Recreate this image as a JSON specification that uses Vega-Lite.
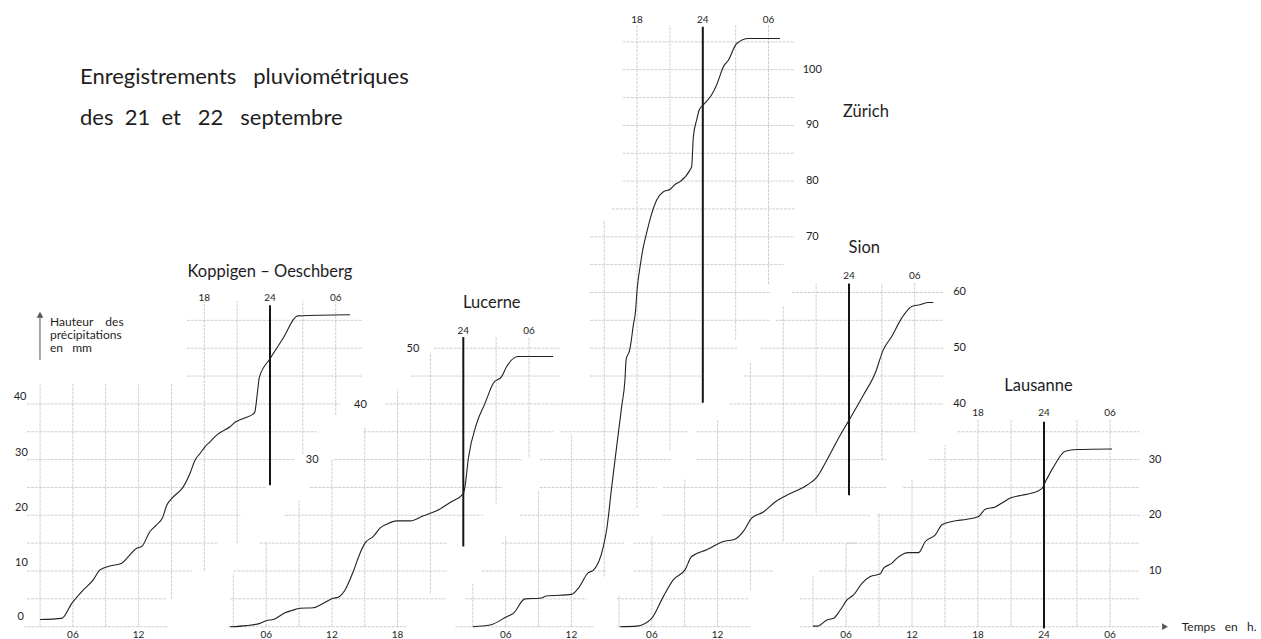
{
 "$schema": "https://vega.github.io/schema/vega-lite/v6.json",
 "width": 1261, "height": 639, "padding": 0, "autosize": {"type": "none"},
 "background": "white",
 "config": {"view": {"stroke": null}, "text": {"font": "Lato", "fill": "#1e1e1e", "baseline": "middle"}},
 "datasets": {
  "curves": [
   {"station":"K","h":3.0,"mm":1.3},{"station":"K","h":4.98,"mm":1.5},{"station":"K","h":5.9,"mm":4.2},{"station":"K","h":6.95,"mm":6.6},{"station":"K","h":7.86,"mm":8.4},{"station":"K","h":8.47,"mm":10.2},{"station":"K","h":9.39,"mm":10.9},{"station":"K","h":10.46,"mm":11.4},{"station":"K","h":11.06,"mm":12.6},{"station":"K","h":11.83,"mm":14.1},{"station":"K","h":12.28,"mm":14.4},{"station":"K","h":13.04,"mm":17.1},{"station":"K","h":13.65,"mm":18.3},{"station":"K","h":14.17,"mm":19.5},{"station":"K","h":14.57,"mm":21.8},{"station":"K","h":15.17,"mm":23.3},{"station":"K","h":16.08,"mm":25.1},{"station":"K","h":16.69,"mm":27.5},{"station":"K","h":17.15,"mm":29.9},{"station":"K","h":17.61,"mm":31.1},{"station":"K","h":18.06,"mm":32.3},{"station":"K","h":18.52,"mm":33.2},{"station":"K","h":19.13,"mm":34.4},{"station":"K","h":19.74,"mm":35.2},{"station":"K","h":20.35,"mm":35.9},{"station":"K","h":20.8,"mm":36.7},{"station":"K","h":21.56,"mm":37.4},{"station":"K","h":22.48,"mm":38.2},{"station":"K","h":22.62,"mm":38.6},{"station":"K","h":22.85,"mm":42.0},{"station":"K","h":23.03,"mm":44.8},{"station":"K","h":24.0,"mm":48.1},{"station":"K","h":25.2,"mm":51.8},{"station":"K","h":26.53,"mm":55.8},{"station":"K","h":31.3,"mm":56.0},
   {"station":"Lu","h":2.69,"mm":0},{"station":"Lu","h":4.22,"mm":0.2},{"station":"Lu","h":5.43,"mm":0.6},{"station":"Lu","h":6.05,"mm":1.1},{"station":"Lu","h":6.65,"mm":1.3},{"station":"Lu","h":7.72,"mm":2.5},{"station":"Lu","h":8.33,"mm":2.9},{"station":"Lu","h":9.09,"mm":3.3},{"station":"Lu","h":10.3,"mm":3.4},{"station":"Lu","h":11.21,"mm":4.2},{"station":"Lu","h":12.13,"mm":5.1},{"station":"Lu","h":12.58,"mm":5.3},{"station":"Lu","h":13.2,"mm":6.6},{"station":"Lu","h":13.95,"mm":9.9},{"station":"Lu","h":14.57,"mm":13.2},{"station":"Lu","h":15.02,"mm":15.0},{"station":"Lu","h":15.78,"mm":16.2},{"station":"Lu","h":16.39,"mm":17.7},{"station":"Lu","h":17.0,"mm":18.4},{"station":"Lu","h":17.92,"mm":19.0},{"station":"Lu","h":19.13,"mm":19.0},{"station":"Lu","h":20.35,"mm":19.9},{"station":"Lu","h":21.57,"mm":20.8},{"station":"Lu","h":22.79,"mm":22.3},{"station":"Lu","h":24.0,"mm":23.9},{"station":"Lu","h":24.15,"mm":25.1},{"station":"Lu","h":24.46,"mm":30.2},{"station":"Lu","h":25.22,"mm":36.5},{"station":"Lu","h":25.98,"mm":40.1},{"station":"Lu","h":26.74,"mm":43.7},{"station":"Lu","h":27.5,"mm":44.9},{"station":"Lu","h":27.96,"mm":46.7},{"station":"Lu","h":29.02,"mm":48.5},{"station":"Lu","h":32.2,"mm":48.5},
   {"station":"Z","h":3.0,"mm":0},{"station":"Z","h":4.57,"mm":0.3},{"station":"Z","h":6.09,"mm":1.8},{"station":"Z","h":6.7,"mm":2.4},{"station":"Z","h":7.76,"mm":5.0},{"station":"Z","h":9.13,"mm":5.1},{"station":"Z","h":9.74,"mm":5.5},{"station":"Z","h":12.02,"mm":5.8},{"station":"Z","h":12.63,"mm":6.9},{"station":"Z","h":13.55,"mm":9.7},{"station":"Z","h":14.0,"mm":10.1},{"station":"Z","h":14.92,"mm":14.4},{"station":"Z","h":15.22,"mm":17.4},{"station":"Z","h":15.68,"mm":25.1},{"station":"Z","h":16.13,"mm":32.3},{"station":"Z","h":16.59,"mm":39.5},{"station":"Z","h":16.89,"mm":44.3},{"station":"Z","h":17.0,"mm":48.0},{"station":"Z","h":17.3,"mm":49.5},{"station":"Z","h":17.4,"mm":50.5},{"station":"Z","h":17.68,"mm":54.5},{"station":"Z","h":17.85,"mm":56.5},{"station":"Z","h":18.0,"mm":60.5},{"station":"Z","h":18.3,"mm":65.0},{"station":"Z","h":18.5,"mm":67.5},{"station":"Z","h":18.93,"mm":71.2},{"station":"Z","h":19.34,"mm":74.2},{"station":"Z","h":19.79,"mm":76.6},{"station":"Z","h":20.4,"mm":78.1},{"station":"Z","h":21.0,"mm":78.5},{"station":"Z","h":21.46,"mm":79.4},{"station":"Z","h":21.92,"mm":79.9},{"station":"Z","h":22.83,"mm":82.0},{"station":"Z","h":22.98,"mm":82.6},{"station":"Z","h":23.14,"mm":88.0},{"station":"Z","h":23.44,"mm":91.0},{"station":"Z","h":23.68,"mm":92.8},{"station":"Z","h":24.05,"mm":93.7},{"station":"Z","h":24.81,"mm":95.5},{"station":"Z","h":25.27,"mm":97.3},{"station":"Z","h":25.87,"mm":100.5},{"station":"Z","h":26.33,"mm":101.7},{"station":"Z","h":27.1,"mm":104.7},{"station":"Z","h":28.16,"mm":105.6},{"station":"Z","h":31.05,"mm":105.6},
   {"station":"S","h":3.09,"mm":0},{"station":"S","h":4.61,"mm":0.1},{"station":"S","h":5.98,"mm":1.5},{"station":"S","h":7.04,"mm":5.4},{"station":"S","h":7.95,"mm":8.4},{"station":"S","h":9.02,"mm":10.2},{"station":"S","h":9.63,"mm":12.6},{"station":"S","h":11.0,"mm":13.8},{"station":"S","h":12.52,"mm":15.3},{"station":"S","h":13.58,"mm":15.7},{"station":"S","h":14.35,"mm":17.1},{"station":"S","h":15.11,"mm":19.5},{"station":"S","h":16.18,"mm":20.6},{"station":"S","h":17.25,"mm":22.4},{"station":"S","h":18.31,"mm":23.6},{"station":"S","h":20.14,"mm":25.4},{"station":"S","h":21.05,"mm":26.8},{"station":"S","h":21.97,"mm":29.9},{"station":"S","h":23.03,"mm":33.8},{"station":"S","h":24.1,"mm":37.4},{"station":"S","h":25.32,"mm":41.6},{"station":"S","h":26.39,"mm":45.5},{"station":"S","h":27.13,"mm":49.7},{"station":"S","h":27.9,"mm":52.1},{"station":"S","h":28.81,"mm":55.4},{"station":"S","h":29.73,"mm":57.5},{"station":"S","h":30.49,"mm":57.8},{"station":"S","h":31.24,"mm":58.2},{"station":"S","h":31.7,"mm":58.2},
   {"station":"La","h":3.0,"mm":0.1},{"station":"La","h":3.4,"mm":0.1},{"station":"La","h":4.27,"mm":1.2},{"station":"La","h":4.87,"mm":1.5},{"station":"La","h":5.48,"mm":3.0},{"station":"La","h":6.09,"mm":4.8},{"station":"La","h":6.69,"mm":5.7},{"station":"La","h":7.45,"mm":7.8},{"station":"La","h":8.21,"mm":9.0},{"station":"La","h":9.12,"mm":9.5},{"station":"La","h":9.42,"mm":10.5},{"station":"La","h":10.18,"mm":11.4},{"station":"La","h":10.64,"mm":12.3},{"station":"La","h":11.69,"mm":13.3},{"station":"La","h":12.6,"mm":13.3},{"station":"La","h":13.21,"mm":15.3},{"station":"La","h":14.12,"mm":16.5},{"station":"La","h":14.73,"mm":18.3},{"station":"La","h":15.64,"mm":18.9},{"station":"La","h":17.0,"mm":19.3},{"station":"La","h":18.05,"mm":19.8},{"station":"La","h":18.66,"mm":21.1},{"station":"La","h":19.57,"mm":21.5},{"station":"La","h":20.18,"mm":22.2},{"station":"La","h":20.94,"mm":23.1},{"station":"La","h":22.0,"mm":23.6},{"station":"La","h":22.75,"mm":23.9},{"station":"La","h":23.81,"mm":24.8},{"station":"La","h":24.12,"mm":26.0},{"station":"La","h":24.87,"mm":28.7},{"station":"La","h":25.93,"mm":31.5},{"station":"La","h":27.0,"mm":31.8},{"station":"La","h":30.18,"mm":31.9}
  ],
  "gridH": [
   {"station":"K","mm":0,"h":1.5,"h2":14.7},{"station":"K","mm":5,"h":1.8,"h2":14.6},{"station":"K","mm":10,"h":1.8,"h2":16.9},{"station":"K","mm":15,"h":1.8,"h2":19.2},{"station":"K","mm":20,"h":1.8,"h2":21.3},{"station":"K","mm":25,"h":1.8,"h2":23.7},{"station":"K","mm":30,"h":1.8,"h2":26.2},{"station":"K","mm":35,"h":1.8,"h2":28.3},{"station":"K","mm":40,"h":1.8,"h2":30.4},{"station":"K","mm":45,"h":16.4,"h2":32.4},{"station":"K","mm":50,"h":16.4,"h2":32.4},{"station":"K","mm":55,"h":16.4,"h2":32.4},
   {"station":"Lu","mm":0,"h":2.5,"h2":18.8},{"station":"Lu","mm":5,"h":2.7,"h2":22.5},{"station":"Lu","mm":10,"h":3,"h2":22.5},{"station":"Lu","mm":15,"h":5.4,"h2":22.5},{"station":"Lu","mm":20,"h":7.7,"h2":25.8},{"station":"Lu","mm":25,"h":10,"h2":27.6},{"station":"Lu","mm":30,"h":12.2,"h2":29.4},{"station":"Lu","mm":35,"h":14.9,"h2":32.2},{"station":"Lu","mm":40,"h":16.9,"h2":32.8},{"station":"Lu","mm":45,"h":19.2,"h2":32.8},{"station":"Lu","mm":50,"h":21.3,"h2":32.8},
   {"station":"Z","mm":0,"h":1.4,"h2":14},{"station":"Z","mm":5,"h":2.3,"h2":13.4},{"station":"Z","mm":10,"h":3.8,"h2":15.2},{"station":"Z","mm":15,"h":5.6,"h2":16.9},{"station":"Z","mm":20,"h":7.3,"h2":18.3},{"station":"Z","mm":25,"h":9.1,"h2":19.8},{"station":"Z","mm":30,"h":9.1,"h2":21.1},{"station":"Z","mm":35,"h":11,"h2":22.6},{"station":"Z","mm":40,"h":11,"h2":24},{"station":"Z","mm":45,"h":13.7,"h2":24},{"station":"Z","mm":50,"h":13.7,"h2":27.2},{"station":"Z","mm":55,"h":13.7,"h2":30.2},{"station":"Z","mm":60,"h":13.7,"h2":30.2},{"station":"Z","mm":65,"h":13.7,"h2":31.4},{"station":"Z","mm":70,"h":13.7,"h2":32.4},{"station":"Z","mm":75,"h":15.7,"h2":32.4},{"station":"Z","mm":80,"h":16.7,"h2":32.4},{"station":"Z","mm":85,"h":16.7,"h2":32.4},{"station":"Z","mm":90,"h":16.7,"h2":32.4},{"station":"Z","mm":95,"h":16.7,"h2":32.4},{"station":"Z","mm":100,"h":16.7,"h2":32.4},{"station":"Z","mm":105,"h":16.7,"h2":32.4},
   {"station":"S","mm":0,"h":2.8,"h2":15},{"station":"S","mm":5,"h":2.8,"h2":14.9},{"station":"S","mm":10,"h":4.3,"h2":17.1},{"station":"S","mm":15,"h":4.3,"h2":24.7},{"station":"S","mm":20,"h":7,"h2":26},{"station":"S","mm":25,"h":7,"h2":27.4},{"station":"S","mm":30,"h":10.1,"h2":27.4},{"station":"S","mm":35,"h":10.1,"h2":30.2},{"station":"S","mm":40,"h":13.1,"h2":32.6},{"station":"S","mm":45,"h":14.4,"h2":32.6},{"station":"S","mm":50,"h":15.9,"h2":32.6},{"station":"S","mm":55,"h":17.3,"h2":32.6},{"station":"S","mm":60,"h":18.8,"h2":32.6},
   {"station":"La","mm":0,"h":1.8,"h2":34.5},{"station":"La","mm":5,"h":1.8,"h2":32.7},{"station":"La","mm":10,"h":3.6,"h2":32.7},{"station":"La","mm":15,"h":6.1,"h2":32.7},{"station":"La","mm":20,"h":8.8,"h2":32.7},{"station":"La","mm":25,"h":11.2,"h2":32.7},{"station":"La","mm":30,"h":13.6,"h2":32.7},{"station":"La","mm":35,"h":16.1,"h2":32.7}
  ],
  "gridV": [
   {"station":"K","h":3,"mm":0,"mm2":43.7},{"station":"K","h":6,"mm":0,"mm2":43.7},{"station":"K","h":9,"mm":0,"mm2":43.7},{"station":"K","h":12,"mm":0,"mm2":43.7},{"station":"K","h":15,"mm":5,"mm2":43.7},{"station":"K","h":18,"mm":10,"mm2":58.5},{"station":"K","h":21,"mm":15,"mm2":58.5},{"station":"K","h":27,"mm":31,"mm2":58.5},{"station":"K","h":30,"mm":38,"mm2":58.5},
   {"station":"Lu","h":3,"mm":0,"mm2":9.6},{"station":"Lu","h":6,"mm":0,"mm2":15.3},{"station":"Lu","h":9,"mm":0,"mm2":22.7},{"station":"Lu","h":12,"mm":0,"mm2":30},{"station":"Lu","h":15,"mm":0,"mm2":35.7},{"station":"Lu","h":18,"mm":0,"mm2":42.6},{"station":"Lu","h":21,"mm":6,"mm2":49.2},{"station":"Lu","h":27,"mm":22,"mm2":52},{"station":"Lu","h":30,"mm":30.5,"mm2":52},
   {"station":"Z","h":3,"mm":0,"mm2":7.7},{"station":"Z","h":6,"mm":0,"mm2":16.2},{"station":"Z","h":9,"mm":0,"mm2":24.5},{"station":"Z","h":12,"mm":0,"mm2":34.6},{"station":"Z","h":15,"mm":9,"mm2":73},{"station":"Z","h":18,"mm":21.3,"mm2":108},{"station":"Z","h":21,"mm":31.7,"mm2":108},{"station":"Z","h":27,"mm":51.5,"mm2":108},{"station":"Z","h":30,"mm":61.5,"mm2":108},
   {"station":"S","h":3,"mm":0,"mm2":5.7},{"station":"S","h":6,"mm":0,"mm2":16.2},{"station":"S","h":9,"mm":0,"mm2":26.6},{"station":"S","h":12,"mm":0,"mm2":37.1},{"station":"S","h":15,"mm":6.6,"mm2":47.3},{"station":"S","h":18,"mm":15.3,"mm2":57.5},{"station":"S","h":21,"mm":20.4,"mm2":61.7},{"station":"S","h":27,"mm":29.9,"mm2":61.7},{"station":"S","h":30,"mm":35.3,"mm2":61.7},
   {"station":"La","h":3,"mm":0,"mm2":9},{"station":"La","h":6,"mm":0,"mm2":15},{"station":"La","h":9,"mm":0,"mm2":20.4},{"station":"La","h":12,"mm":0,"mm2":26.6},{"station":"La","h":15,"mm":0,"mm2":32.6},{"station":"La","h":18,"mm":0,"mm2":37.1},{"station":"La","h":21,"mm":0,"mm2":37.1},{"station":"La","h":27,"mm":0,"mm2":37.1},{"station":"La","h":30,"mm":0,"mm2":37.1}
  ],
  "mid": [
   {"station":"K","h":24,"mm":25.4,"mm2":57.7},{"station":"Lu","h":24,"mm":14.4,"mm2":52},{"station":"Z","h":24,"mm":40.2,"mm2":107.7},{"station":"S","h":24,"mm":23.6,"mm2":61.6},{"station":"La","h":24,"mm":-0.3,"mm2":36.8}
  ],
  "shaft": [{"station":"K","h":2.995,"mm":47.9,"mm2":55.5}],
  "arrows": [{"station":"K","h":2.995,"mm":56.0,"dir":"up"},{"station":"La","h":35.0,"mm":0,"dir":"right"}],
  "labels": [
   {"station":"K","h":18,"mm":59,"text":"18","kind":"hour"},{"station":"K","h":24,"mm":59,"text":"24","kind":"hour"},{"station":"K","h":30,"mm":59,"text":"06","kind":"hour"},{"station":"K","h":6,"mm":-1.5,"text":"06","kind":"hour"},{"station":"K","h":12,"mm":-1.5,"text":"12","kind":"hour"},
   {"station":"K","h":1.23,"mm":1.8,"text":"0","kind":"value"},{"station":"K","h":1.3,"mm":11.4,"text":"10","kind":"value"},{"station":"K","h":1.3,"mm":21.3,"text":"20","kind":"value"},{"station":"K","h":1.3,"mm":31.2,"text":"30","kind":"value"},{"station":"K","h":1.17,"mm":41.3,"text":"40","kind":"value"},
   {"station":"K","h":24,"mm":63.7,"text":"Koppigen – Oeschberg","kind":"name"},
   {"station":"Lu","h":24,"mm":53.1,"text":"24","kind":"hour"},{"station":"Lu","h":30,"mm":53.1,"text":"06","kind":"hour"},{"station":"Lu","h":6,"mm":-1.5,"text":"06","kind":"hour"},{"station":"Lu","h":12,"mm":-1.5,"text":"12","kind":"hour"},{"station":"Lu","h":18,"mm":-1.5,"text":"18","kind":"hour"},
   {"station":"Lu","h":10.2,"mm":29.9,"text":"30","kind":"value"},{"station":"Lu","h":14.6,"mm":39.8,"text":"40","kind":"value"},{"station":"Lu","h":19.4,"mm":49.8,"text":"50","kind":"value"},
   {"station":"Lu","h":26.6,"mm":58.2,"text":"Lucerne","kind":"name"},
   {"station":"Z","h":18,"mm":109,"text":"18","kind":"hour"},{"station":"Z","h":24,"mm":109,"text":"24","kind":"hour"},{"station":"Z","h":30,"mm":109,"text":"06","kind":"hour"},{"station":"Z","h":6,"mm":-1.5,"text":"06","kind":"hour"},{"station":"Z","h":12,"mm":-1.5,"text":"12","kind":"hour"},
   {"station":"Z","h":34,"mm":100,"text":"100","kind":"value"},{"station":"Z","h":34,"mm":90,"text":"90","kind":"value"},{"station":"Z","h":34,"mm":80,"text":"80","kind":"value"},{"station":"Z","h":34,"mm":70,"text":"70","kind":"value"},
   {"station":"Z","h":38.9,"mm":92.4,"text":"Zürich","kind":"name"},
   {"station":"S","h":24,"mm":63,"text":"24","kind":"hour"},{"station":"S","h":30,"mm":63,"text":"06","kind":"hour"},{"station":"S","h":6,"mm":-1.5,"text":"06","kind":"hour"},{"station":"S","h":12,"mm":-1.5,"text":"12","kind":"hour"},
   {"station":"S","h":34.1,"mm":60,"text":"60","kind":"value"},{"station":"S","h":34.1,"mm":50,"text":"50","kind":"value"},{"station":"S","h":34.1,"mm":40,"text":"40","kind":"value"},
   {"station":"S","h":25.4,"mm":67.9,"text":"Sion","kind":"name"},
   {"station":"La","h":18,"mm":38.3,"text":"18","kind":"hour"},{"station":"La","h":24,"mm":38.3,"text":"24","kind":"hour"},{"station":"La","h":30,"mm":38.3,"text":"06","kind":"hour"},{"station":"La","h":6,"mm":-1.5,"text":"06","kind":"hour"},{"station":"La","h":12,"mm":-1.5,"text":"12","kind":"hour"},{"station":"La","h":18,"mm":-1.5,"text":"18","kind":"hour"},{"station":"La","h":24,"mm":-1.5,"text":"24","kind":"hour"},{"station":"La","h":30,"mm":-1.5,"text":"06","kind":"hour"},
   {"station":"La","h":34.1,"mm":30,"text":"30","kind":"value"},{"station":"La","h":34.1,"mm":20,"text":"20","kind":"value"},{"station":"La","h":34.1,"mm":10,"text":"10","kind":"value"},
   {"station":"La","h":23.5,"mm":43.2,"text":"Lausanne","kind":"name"}
  ],
  "notes": [
   {"station":"K","h":6.648,"mm":98.69,"text":"Enregistrements\u00a0\u00a0 pluviométriques","kind":"title"},
   {"station":"K","h":6.648,"mm":91.33,"text":"des\u00a0 21\u00a0 et\u00a0\u00a0 22\u00a0\u00a0 septembre","kind":"title"},
   {"station":"K","h":3.909,"mm":54.76,"text":"Hauteur\u00a0\u00a0\u00a0 des","kind":"note"},
   {"station":"K","h":3.909,"mm":52.37,"text":"précipitations","kind":"note"},
   {"station":"K","h":3.909,"mm":49.98,"text":"en\u00a0\u00a0 mm","kind":"note"},
   {"station":"La","h":36.52,"mm":0,"text":"Temps\u00a0\u00a0 en\u00a0\u00a0 h.","kind":"note"}
  ]
 },
 "resolve": {"scale": {"x": "independent"}},
 "layer": [
  {
   "encoding": {
    "x": {"field": "h", "type": "quantitative", "scale": {"domain": [-0.6575, 114.502], "nice": false, "zero": false}, "axis": null},
    "y": {"field": "mm", "type": "quantitative", "scale": {"domain": [-2.208, 112.513], "nice": false, "zero": false}, "axis": null}
   },
   "layer": [
    {"data": {"name": "gridH"}, "transform": [{"filter": "datum.station === 'K'"}], "mark": {"type": "rule", "stroke": "#b0b0b0", "strokeWidth": 0.6, "strokeDash": [3, 1]}, "encoding": {"x2": {"field": "h2"}}},
    {"data": {"name": "gridV"}, "transform": [{"filter": "datum.station === 'K'"}], "mark": {"type": "rule", "stroke": "#b0b0b0", "strokeWidth": 0.6, "strokeDash": [3, 1]}, "encoding": {"y2": {"field": "mm2"}}},
    {"data": {"name": "mid"}, "transform": [{"filter": "datum.station === 'K'"}], "mark": {"type": "rule", "stroke": "#151515", "strokeWidth": 2}, "encoding": {"y2": {"field": "mm2"}}},
    {"data": {"name": "shaft"}, "transform": [{"filter": "datum.station === 'K'"}], "mark": {"type": "rule", "stroke": "#222", "strokeWidth": 0.8}, "encoding": {"y2": {"field": "mm2"}}},
    {"data": {"name": "arrows"}, "transform": [{"filter": "datum.station === 'K'"}], "mark": {"type": "point", "filled": true, "color": "#111", "size": 45, "shape": "triangle-up"}, "encoding": {}},
    {"data": {"name": "curves"}, "transform": [{"filter": "datum.station === 'K'"}], "mark": {"type": "line", "stroke": "#222", "strokeWidth": 1.1, "interpolate": "monotone"}, "encoding": {}},
    {"data": {"name": "labels"}, "transform": [{"filter": "datum.station === 'K' && datum.kind === 'hour'"}], "mark": {"type": "text", "align": "center", "fontSize": 10}, "encoding": {"text": {"field": "text"}}},
    {"data": {"name": "labels"}, "transform": [{"filter": "datum.station === 'K' && datum.kind === 'value'"}], "mark": {"type": "text", "align": "center", "fontSize": 11}, "encoding": {"text": {"field": "text"}}},
    {"data": {"name": "labels"}, "transform": [{"filter": "datum.station === 'K' && datum.kind === 'name'"}], "mark": {"type": "text", "align": "center", "fontSize": 16.5}, "encoding": {"text": {"field": "text"}}},
    {"data": {"name": "notes"}, "transform": [{"filter": "datum.station === 'K' && datum.kind === 'title'"}], "mark": {"type": "text", "align": "left", "fontSize": 22}, "encoding": {"text": {"field": "text"}}},
    {"data": {"name": "notes"}, "transform": [{"filter": "datum.station === 'K' && datum.kind === 'note'"}], "mark": {"type": "text", "align": "left", "fontSize": 12}, "encoding": {"text": {"field": "text"}}}
   ]
  },
  {
   "encoding": {
    "x": {"field": "h", "type": "quantitative", "scale": {"domain": [-18.311, 96.849], "nice": false, "zero": false}, "axis": null},
    "y": {"field": "mm", "type": "quantitative", "scale": {"domain": [-2.208, 112.513], "nice": false, "zero": false}, "axis": null}
   },
   "layer": [
    {"data": {"name": "gridH"}, "transform": [{"filter": "datum.station === 'Lu'"}], "mark": {"type": "rule", "stroke": "#b0b0b0", "strokeWidth": 0.6, "strokeDash": [3, 1]}, "encoding": {"x2": {"field": "h2"}}},
    {"data": {"name": "gridV"}, "transform": [{"filter": "datum.station === 'Lu'"}], "mark": {"type": "rule", "stroke": "#b0b0b0", "strokeWidth": 0.6, "strokeDash": [3, 1]}, "encoding": {"y2": {"field": "mm2"}}},
    {"data": {"name": "mid"}, "transform": [{"filter": "datum.station === 'Lu'"}], "mark": {"type": "rule", "stroke": "#151515", "strokeWidth": 2}, "encoding": {"y2": {"field": "mm2"}}},
    {"data": {"name": "curves"}, "transform": [{"filter": "datum.station === 'Lu'"}], "mark": {"type": "line", "stroke": "#222", "strokeWidth": 1.1, "interpolate": "monotone"}, "encoding": {}},
    {"data": {"name": "labels"}, "transform": [{"filter": "datum.station === 'Lu' && datum.kind === 'hour'"}], "mark": {"type": "text", "align": "center", "fontSize": 10}, "encoding": {"text": {"field": "text"}}},
    {"data": {"name": "labels"}, "transform": [{"filter": "datum.station === 'Lu' && datum.kind === 'value'"}], "mark": {"type": "text", "align": "center", "fontSize": 11}, "encoding": {"text": {"field": "text"}}},
    {"data": {"name": "labels"}, "transform": [{"filter": "datum.station === 'Lu' && datum.kind === 'name'"}], "mark": {"type": "text", "align": "center", "fontSize": 16.5}, "encoding": {"text": {"field": "text"}}}
   ]
  },
  {
   "encoding": {
    "x": {"field": "h", "type": "quantitative", "scale": {"domain": [-40.183, 74.977], "nice": false, "zero": false}, "axis": null},
    "y": {"field": "mm", "type": "quantitative", "scale": {"domain": [-2.208, 112.513], "nice": false, "zero": false}, "axis": null}
   },
   "layer": [
    {"data": {"name": "gridH"}, "transform": [{"filter": "datum.station === 'Z'"}], "mark": {"type": "rule", "stroke": "#b0b0b0", "strokeWidth": 0.6, "strokeDash": [3, 1]}, "encoding": {"x2": {"field": "h2"}}},
    {"data": {"name": "gridV"}, "transform": [{"filter": "datum.station === 'Z'"}], "mark": {"type": "rule", "stroke": "#b0b0b0", "strokeWidth": 0.6, "strokeDash": [3, 1]}, "encoding": {"y2": {"field": "mm2"}}},
    {"data": {"name": "mid"}, "transform": [{"filter": "datum.station === 'Z'"}], "mark": {"type": "rule", "stroke": "#151515", "strokeWidth": 2}, "encoding": {"y2": {"field": "mm2"}}},
    {"data": {"name": "curves"}, "transform": [{"filter": "datum.station === 'Z'"}], "mark": {"type": "line", "stroke": "#222", "strokeWidth": 1.1, "interpolate": "monotone"}, "encoding": {}},
    {"data": {"name": "labels"}, "transform": [{"filter": "datum.station === 'Z' && datum.kind === 'hour'"}], "mark": {"type": "text", "align": "center", "fontSize": 10}, "encoding": {"text": {"field": "text"}}},
    {"data": {"name": "labels"}, "transform": [{"filter": "datum.station === 'Z' && datum.kind === 'value'"}], "mark": {"type": "text", "align": "center", "fontSize": 11}, "encoding": {"text": {"field": "text"}}},
    {"data": {"name": "labels"}, "transform": [{"filter": "datum.station === 'Z' && datum.kind === 'name'"}], "mark": {"type": "text", "align": "center", "fontSize": 16.5}, "encoding": {"text": {"field": "text"}}}
   ]
  },
  {
   "encoding": {
    "x": {"field": "h", "type": "quantitative", "scale": {"domain": [-53.534, 61.626], "nice": false, "zero": false}, "axis": null},
    "y": {"field": "mm", "type": "quantitative", "scale": {"domain": [-2.208, 112.513], "nice": false, "zero": false}, "axis": null}
   },
   "layer": [
    {"data": {"name": "gridH"}, "transform": [{"filter": "datum.station === 'S'"}], "mark": {"type": "rule", "stroke": "#b0b0b0", "strokeWidth": 0.6, "strokeDash": [3, 1]}, "encoding": {"x2": {"field": "h2"}}},
    {"data": {"name": "gridV"}, "transform": [{"filter": "datum.station === 'S'"}], "mark": {"type": "rule", "stroke": "#b0b0b0", "strokeWidth": 0.6, "strokeDash": [3, 1]}, "encoding": {"y2": {"field": "mm2"}}},
    {"data": {"name": "mid"}, "transform": [{"filter": "datum.station === 'S'"}], "mark": {"type": "rule", "stroke": "#151515", "strokeWidth": 2}, "encoding": {"y2": {"field": "mm2"}}},
    {"data": {"name": "curves"}, "transform": [{"filter": "datum.station === 'S'"}], "mark": {"type": "line", "stroke": "#222", "strokeWidth": 1.1, "interpolate": "monotone"}, "encoding": {}},
    {"data": {"name": "labels"}, "transform": [{"filter": "datum.station === 'S' && datum.kind === 'hour'"}], "mark": {"type": "text", "align": "center", "fontSize": 10}, "encoding": {"text": {"field": "text"}}},
    {"data": {"name": "labels"}, "transform": [{"filter": "datum.station === 'S' && datum.kind === 'value'"}], "mark": {"type": "text", "align": "center", "fontSize": 11}, "encoding": {"text": {"field": "text"}}},
    {"data": {"name": "labels"}, "transform": [{"filter": "datum.station === 'S' && datum.kind === 'name'"}], "mark": {"type": "text", "align": "center", "fontSize": 16.5}, "encoding": {"text": {"field": "text"}}}
   ]
  },
  {
   "encoding": {
    "x": {"field": "h", "type": "quantitative", "scale": {"domain": [-70.909, 43.727], "nice": false, "zero": false}, "axis": null},
    "y": {"field": "mm", "type": "quantitative", "scale": {"domain": [-2.208, 112.513], "nice": false, "zero": false}, "axis": null}
   },
   "layer": [
    {"data": {"name": "gridH"}, "transform": [{"filter": "datum.station === 'La'"}], "mark": {"type": "rule", "stroke": "#b0b0b0", "strokeWidth": 0.6, "strokeDash": [3, 1]}, "encoding": {"x2": {"field": "h2"}}},
    {"data": {"name": "gridV"}, "transform": [{"filter": "datum.station === 'La'"}], "mark": {"type": "rule", "stroke": "#b0b0b0", "strokeWidth": 0.6, "strokeDash": [3, 1]}, "encoding": {"y2": {"field": "mm2"}}},
    {"data": {"name": "mid"}, "transform": [{"filter": "datum.station === 'La'"}], "mark": {"type": "rule", "stroke": "#151515", "strokeWidth": 2}, "encoding": {"y2": {"field": "mm2"}}},
    {"data": {"name": "arrows"}, "transform": [{"filter": "datum.station === 'La'"}], "mark": {"type": "point", "filled": true, "color": "#111", "size": 45, "shape": "triangle-right"}, "encoding": {}},
    {"data": {"name": "curves"}, "transform": [{"filter": "datum.station === 'La'"}], "mark": {"type": "line", "stroke": "#222", "strokeWidth": 1.1, "interpolate": "monotone"}, "encoding": {}},
    {"data": {"name": "labels"}, "transform": [{"filter": "datum.station === 'La' && datum.kind === 'hour'"}], "mark": {"type": "text", "align": "center", "fontSize": 10}, "encoding": {"text": {"field": "text"}}},
    {"data": {"name": "labels"}, "transform": [{"filter": "datum.station === 'La' && datum.kind === 'value'"}], "mark": {"type": "text", "align": "center", "fontSize": 11}, "encoding": {"text": {"field": "text"}}},
    {"data": {"name": "labels"}, "transform": [{"filter": "datum.station === 'La' && datum.kind === 'name'"}], "mark": {"type": "text", "align": "center", "fontSize": 16.5}, "encoding": {"text": {"field": "text"}}},
    {"data": {"name": "notes"}, "transform": [{"filter": "datum.station === 'La' && datum.kind === 'note'"}], "mark": {"type": "text", "align": "left", "fontSize": 12}, "encoding": {"text": {"field": "text"}}}
   ]
  }
 ]
}
